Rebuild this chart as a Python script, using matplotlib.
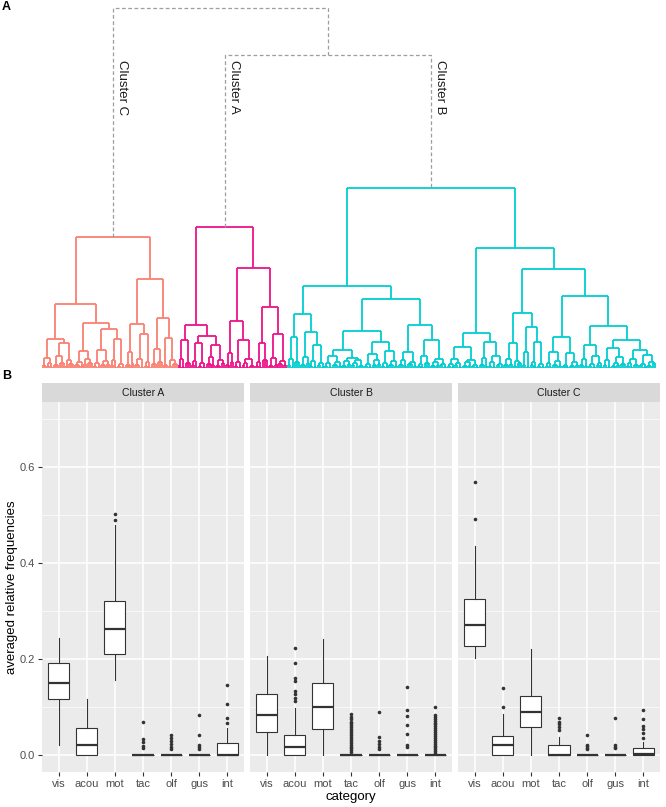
import numpy as np
import matplotlib
matplotlib.use("Agg")
import matplotlib.pyplot as plt
from matplotlib.collections import LineCollection

plt.rcParams['font.family'] = ['Liberation Sans', 'DejaVu Sans']

# ---- panel A: dendrogram (merge heights in px above the leaves) ----
# "." = leaf, "( ... )h" = children joined at height h
tree_C = ("(" "(" "(((..)3((..)2(..)1)5)10(((...)3(...)5)12((..)2(...)4)8)25)29"
          "((((...)3(..)2)6((..)4(...)5)9)17"
          "((((..)2(..)1)5((...)3(..)4)7)18(((..)3(..)1)8((..)2(..)1)4)29)39)45" ")64"
          "(" "(((...)3(..)5)16(((...)3(..)1)9((..)2(..)1)6)34)44"
          "(((...)4(...)6)19((...)3((..)2(...)4)8)30)50" ")89" ")131")
tree_A = ("(" "((((..)3(..)1)9(...)5)28"
          "((((..)3(..)1)7((..)2(..)1)5)25(((...)4(..)3)11((...)2(..)5)8)23)32)43"
          "((((...)3(..)6)15(((..)2(..)1)6(((..)3(..)1)5(...)2)9)28)47"
          "((((..)2(..)1)6(...)8)25(((...)2(..)3)10((...)4(..)3)7)34)61)100" ")141")
tree_B = ("(" "(" "((((..)3(..)1)9(...)6)31(((...)3(..)5)11(((..)2(..)1)7((..)3(..)1)5)23)36)54"
          "(" "(((((..)2(..)1)5((...)3(..)2)6)12(((...)2(..)4)7(((..)3(..)1)5(...)2)8)10)18"
          "((((..)2(..)1)4((...)3(..)4)8)14(((..)2(..)1)5((...)3(..)2)7)17)26)37"
          "((((...)3(..)2)8((...)4(..)2)6)16"
          "((((..)2(..)1)4(...)5)12(((...)2(..)3)6((..)3(..)1)4)9)28)43" ")69" ")82"
          "(" "(((((..)2(..)1)4((..)3(..)1)5)9(((...)2(..)3)6((..)2(..)1)3)8)21"
          "(((...)3(..)2)10(((..)2(..)1)6((..)3(..)1)4)12)26)35"
          "(" "((((...)3(..)4)9((..)2(...)5)7)25(((..)3(..)1)16(((..)3(..)1)6((..)2(..)1)4)26)41)55"
          "(" "((((..)2(..)1)5((...)3(..)2)7)16(((..)2(..)1)3((...)2(..)3)6)15)31"
          "((((...)3(..)2)9(((..)2(..)1)4((..)3(..)1)5)12)23"
          "((((..)3(..)1)8(((...)2(..)3)5(...)4)11)20"
          "((((..)2(..)1)5(...)3)9(((..)3(..)1)4((...)2(..)5)6)13)18)28)42" ")72"
          ")99" ")120" ")180")
cluster_trees = [tree_C, tree_A, tree_B]
cluster_names = ["Cluster C", "Cluster A", "Cluster B"]
cluster_colors = ["#FA8072", "#EE1289", "#00CED1"]
h_AB = 313
h_root = 360

# ---- panel B: boxplot summaries ----
categories = ["vis", "acou", "mot", "tac", "olf", "gus", "int"]
facets = ["Cluster A", "Cluster B", "Cluster C"]

A_q1 = [0.116, 0.0, 0.211, 0, 0, 0, 0]
A_med = [0.151, 0.021, 0.262, 0, 0, 0, 0]
A_q3 = [0.192, 0.057, 0.320, 0, 0, 0, 0.025]
A_lo = [0.021, 0, 0.157, 0, 0, 0, 0]
A_hi = [0.244, 0.116, 0.480, 0, 0, 0, 0.057]
A_out = [[], [], [0.489, 0.502], [0.070, 0.033, 0.028, 0.020, 0.015],
         [0.042, 0.036, 0.030, 0.024, 0.018, 0.012], [0.084, 0.041, 0.021, 0.017, 0.013],
         [0.146, 0.106, 0.078, 0.068]]

B_q1 = [0.048, 0, 0.054, 0, 0, 0, 0]
B_med = [0.084, 0.017, 0.101, 0, 0, 0, 0]
B_q3 = [0.128, 0.041, 0.151, 0, 0, 0, 0]
B_lo = [0, 0, 0, 0, 0, 0, 0]
B_hi = [0.207, 0.099, 0.242, 0, 0, 0, 0]
B_out = [[], [0.223, 0.191, 0.161, 0.154, 0.133, 0.127, 0.120, 0.113], [],
         [0.085, 0.080, 0.075, 0.070, 0.066, 0.062, 0.058, 0.054, 0.050, 0.046, 0.042,
          0.038, 0.034, 0.030, 0.026, 0.022, 0.018, 0.014, 0.010, 0.006],
         [0.090, 0.038, 0.030, 0.024, 0.017, 0.012],
         [0.142, 0.094, 0.082, 0.062, 0.044, 0.021, 0.017],
         [0.101, 0.084, 0.080, 0.076, 0.072, 0.068, 0.064, 0.060, 0.056, 0.052, 0.048,
          0.044, 0.040, 0.036, 0.032, 0.028, 0.024, 0.020, 0.016, 0.012, 0.008, 0.004]]

C_q1 = [0.228, 0, 0.059, 0, 0, 0, 0]
C_med = [0.270, 0.021, 0.090, 0, 0, 0, 0.002]
C_q3 = [0.325, 0.040, 0.124, 0.021, 0, 0, 0.014]
C_lo = [0.202, 0, 0, 0, 0, 0, 0]
C_hi = [0.436, 0.085, 0.222, 0.038, 0, 0, 0.028]
C_out = [[0.568, 0.492], [0.139, 0.101], [], [0.077, 0.070, 0.064, 0.059, 0.053],
         [0.043, 0.022, 0.019, 0.015, 0.012], [0.077, 0.022, 0.018, 0.014],
         [0.095, 0.075, 0.061, 0.055, 0.046, 0.035]]

box_data = [(A_q1, A_med, A_q3, A_lo, A_hi, A_out),
            (B_q1, B_med, B_q3, B_lo, B_hi, B_out),
            (C_q1, C_med, C_q3, C_lo, C_hi, C_out)]


def parse(s):
    pos = 0

    def node():
        nonlocal pos
        if s[pos] == '.':
            pos += 1
            return None
        pos += 1  # "("
        kids = []
        while s[pos] != ')':
            kids.append(node())
        pos += 1
        j = pos
        while pos < len(s) and s[pos].isdigit():
            pos += 1
        return (int(s[j:pos]), kids)
    return node()


def layout(t, counter, segs):
    # returns (x, h) of node, leaves numbered left to right
    if t is None:
        x = counter[0]
        counter[0] += 1
        return x, 0
    h, kids = t
    pts = [layout(k, counter, segs) for k in kids]
    for (x, y) in pts:
        segs.append([(x, y), (x, h)])
    segs.append([(pts[0][0], h), (pts[-1][0], h)])
    return np.mean([p[0] for p in pts]), h


fig = plt.figure(figsize=(6.66, 8.07), dpi=100)
W, H = 666.0, 807.0

# dendrogram
counter = [0]
all_segs = []
tops = []
for tr in cluster_trees:
    segs = []
    tops.append(layout(parse(tr), counter, segs))
    all_segs.append(segs)
n_leaves = counter[0]

axd = fig.add_axes([43 / W, 1 - 368 / H, 612 / W, 360 / H])
axd.set_xlim(0, n_leaves - 1)
axd.set_ylim(0, 360)
axd.axis('off')
for segs, col in zip(all_segs, cluster_colors):
    axd.add_collection(LineCollection(segs, colors=col, linewidths=1.3, clip_on=False))

dash = dict(color="#9E9E9E", lw=0.9, ls=(0, (3, 2)), clip_on=False)
(xc, hc), (xa, ha_), (xb, hb) = tops
x_ab = (xa + xb) / 2
axd.plot([xa, xa, xb, xb], [ha_, h_AB, h_AB, hb], **dash)
axd.plot([xc, xc, x_ab, x_ab], [hc, h_root, h_root, h_AB], **dash)
px = (n_leaves - 1) / 612.0
for (x, h), name in zip(tops, cluster_names):
    axd.text(x + 3.5 * px, 308, name, rotation=-90, ha='left', va='top',
             fontsize=9.5, color='#1A1A1A')

# boxplot facets
lefts = [42, 250, 458]
for i, (left, name, data) in enumerate(zip(lefts, facets, box_data)):
    ax = fig.add_axes([left / W, 1 - 772 / H, 202 / W, 370 / H])
    q1, med, q3, lo, hi, out = data
    stats = [dict(q1=q1[k], med=med[k], q3=q3[k], whislo=lo[k], whishi=hi[k],
                  fliers=out[k]) for k in range(len(categories))]
    ax.set_facecolor('#EBEBEB')
    ax.bxp(stats, positions=range(1, 8), widths=0.75, showcaps=False, patch_artist=True,
           boxprops=dict(facecolor='white', edgecolor='#333333', lw=0.8),
           medianprops=dict(color='#333333', lw=1.6),
           whiskerprops=dict(color='#333333', lw=0.8),
           flierprops=dict(marker='o', markersize=2.6, markerfacecolor='#333333',
                           markeredgecolor='none'))
    ax.set_xlim(0.4, 7.6)
    ax.set_ylim(-0.035, 0.735)
    ax.set_xticks(range(1, 8))
    ax.set_xticklabels(categories)
    ax.set_yticks([0.0, 0.2, 0.4, 0.6])
    ax.set_yticklabels(['0.0', '0.2', '0.4', '0.6'])
    ax.set_yticks([0.1, 0.3, 0.5, 0.7], minor=True)
    ax.set_axisbelow(True)
    ax.grid(which='major', color='white', lw=1.1)
    ax.grid(which='minor', axis='y', color='white', lw=0.5)
    for sp in ax.spines.values():
        sp.set_visible(False)
    ax.tick_params(which='major', color='#333333', length=3, width=0.8,
                   labelsize=8, labelcolor='#4D4D4D', pad=2)
    ax.tick_params(which='minor', length=0)
    if i > 0:
        ax.tick_params(axis='y', length=0, labelleft=False)

    st = fig.add_axes([left / W, 1 - 402 / H, 202 / W, 19 / H])
    st.set_facecolor('#D9D9D9')
    st.set_xticks([])
    st.set_yticks([])
    for sp in st.spines.values():
        sp.set_visible(False)
    st.text(0.5, 0.5, name, ha='center', va='center', fontsize=7.5, color='#1A1A1A',
            transform=st.transAxes)

fig.text(12 / W, 1 - 587 / H, "averaged relative frequencies", rotation=90,
         ha='center', va='center', fontsize=9.5, color='black')
fig.text(351 / W, 1 - 797 / H, "category", ha='center', va='center', fontsize=9.5,
         color='black')
fig.text(2 / W, 1 - 7 / H, "A", ha='left', va='center', fontsize=9, fontweight='bold')
fig.text(2 / W, 1 - 376 / H, "B", ha='left', va='center', fontsize=9, fontweight='bold')

fig.savefig("out.png", dpi=100)
